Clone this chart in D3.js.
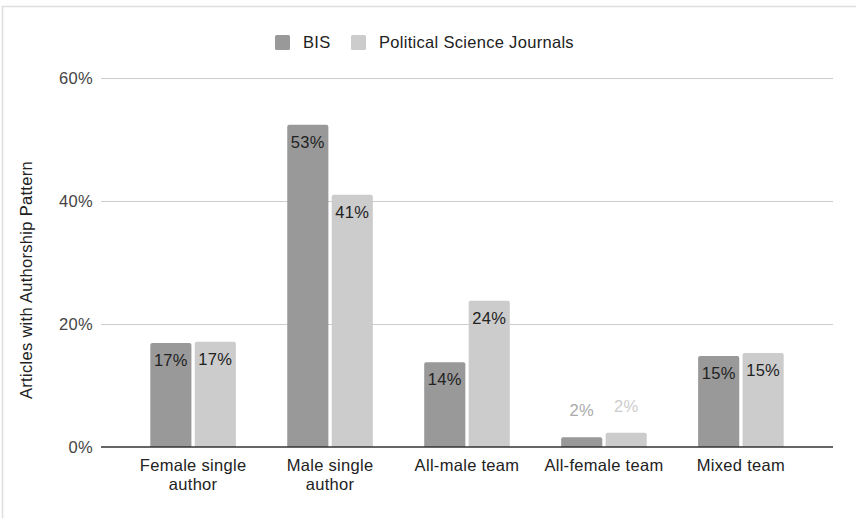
<!DOCTYPE html>
<html>
<head>
<meta charset="utf-8">
<script src="https://cdn.jsdelivr.net/npm/d3@7"></script>
<style>
  html, body { margin: 0; padding: 0; background: #fff; }
  svg { display: block; font-family: "Liberation Sans", Arial, sans-serif; letter-spacing: 0.3px; }
</style>
</head>
<body>
<svg id="chart" width="856" height="518"></svg>
<script>
const categories = [["Female single", "author"], ["Male single", "author"], ["All-male team"], ["All-female team"], ["Mixed team"]];
const seriesNames = ["BIS", "Political Science Journals"];
const bisValues = [0.169, 0.524, 0.138, 0.016, 0.148];
const psjValues = [0.171, 0.410, 0.238, 0.023, 0.153];
const valueLabels = [["17%", "17%"], ["53%", "41%"], ["14%", "24%"], ["2%", "2%"], ["15%", "15%"]];
const yTicks = [0, 0.2, 0.4, 0.6];
const yTickLabels = ["0%", "20%", "40%", "60%"];
const colors = ["#999999", "#cccccc"];
const yTitle = "Articles with Authorship Pattern";

const FS = 16.5;
const svg = d3.select("#chart");

// outer frame (top & left edges)
svg.append("path").attr("d", "M2.5,518 L2.5,6.5 L856,6.5")
  .attr("fill", "none").attr("stroke", "#dedede").attr("stroke-width", 1.5);

const x0 = d3.scaleBand().domain(d3.range(categories.length)).range([101, 833]).paddingInner(0.375).paddingOuter(0.36);
const x1 = d3.scaleBand().domain([0, 1]).range([0, x0.bandwidth()]).paddingInner(0.075);
const y = d3.scaleLinear().domain([0, 0.6]).range([447, 78]);

// gridlines
svg.append("g").selectAll("line").data(yTicks.filter(t => t > 0)).join("line")
  .attr("x1", 101).attr("x2", 833)
  .attr("y1", d => Math.round(y(d)) + 0.5).attr("y2", d => Math.round(y(d)) + 0.5)
  .attr("stroke", "#cccccc").attr("stroke-width", 1);

// y tick labels
svg.append("g").selectAll("text").data(yTicks).join("text")
  .attr("x", 93).attr("y", d => y(d) + 6)
  .attr("text-anchor", "end").attr("font-size", FS).attr("fill", "#444")
  .text((d, i) => yTickLabels[i]);

// bars
const data = categories.map((c, i) => ({ i, vals: [bisValues[i], psjValues[i]] }));
const groups = svg.append("g").selectAll("g").data(data).join("g")
  .attr("transform", d => `translate(${x0(d.i)},0)`);

function barPath(x, top, w, bottom, r) {
  r = Math.min(r, (bottom - top) / 2);
  return `M${x},${bottom} L${x},${top + r} Q${x},${top} ${x + r},${top} L${x + w - r},${top} Q${x + w},${top} ${x + w},${top + r} L${x + w},${bottom} Z`;
}

groups.selectAll("path").data(d => d.vals.map((v, s) => ({ v, s, i: d.i }))).join("path")
  .attr("d", d => barPath(x1(d.s), y(d.v), x1.bandwidth(), y(0), 2))
  .attr("fill", d => colors[d.s]);

// value labels
groups.selectAll("text").data(d => d.vals.map((v, s) => ({ v, s, i: d.i }))).join("text")
  .attr("x", d => x1(d.s) + x1.bandwidth() / 2)
  .attr("y", d => (y(0) - y(d.v) > 30) ? y(d.v) + 23 : y(d.v) - 21)
  .attr("text-anchor", "middle").attr("font-size", FS)
  .attr("fill", d => (y(0) - y(d.v) > 30) ? "#222" : (d.s === 0 ? "#aaaaaa" : "#cccccc"))
  .text(d => valueLabels[d.i][d.s]);

// baseline
svg.append("line").attr("x1", 101).attr("x2", 833)
  .attr("y1", y(0)).attr("y2", y(0)).attr("stroke", "#333").attr("stroke-width", 1.5);

// category labels
const catG = svg.append("g").selectAll("text").data(categories).join("text")
  .attr("x", (d, i) => x0(i) + x0.bandwidth() / 2)
  .attr("y", 471)
  .attr("text-anchor", "middle").attr("font-size", FS).attr("fill", "#222");
catG.selectAll("tspan").data(d => d).join("tspan")
  .attr("x", function () { return d3.select(this.parentNode).attr("x"); })
  .attr("dy", (d, j) => j === 0 ? 0 : 19)
  .text(d => d);

// y axis title
svg.append("text")
  .attr("transform", `translate(32,280) rotate(-90)`)
  .attr("text-anchor", "middle").attr("font-size", FS).attr("fill", "#222")
  .text(yTitle);

// legend
const legend = svg.append("g");
const legendX = [275, 351];
seriesNames.forEach((name, s) => {
  legend.append("rect").attr("x", legendX[s]).attr("y", 35).attr("width", 15).attr("height", 15)
    .attr("rx", 1.5).attr("fill", colors[s]);
  legend.append("text").attr("x", legendX[s] + 28).attr("y", 48)
    .attr("font-size", FS).attr("fill", "#222").text(name);
});
</script>
</body>
</html>
